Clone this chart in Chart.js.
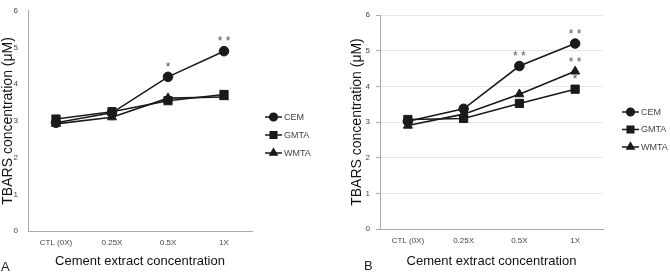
<!DOCTYPE html>
<html>
<head>
<meta charset="utf-8">
<script src="https://cdn.jsdelivr.net/npm/chart.js@4/dist/chart.umd.min.js"></script>
<style>
    body { margin: 0; background: #fff; width: 670px; height: 272px; overflow: hidden; position: relative; font-family: "Liberation Sans", Arial, sans-serif; }
    .panel { position: absolute; top: 0; width: 335px; height: 272px; }
    .tag { position: absolute; font-size: 13px; color: #222; }
</style>
</head>
<body>
<div class="panel" style="left:0"><canvas id="chartA"></canvas></div>
<div class="panel" style="left:335px"><canvas id="chartB"></canvas></div>
<div class="tag" style="left:1px; top:259px;">A</div>
<div class="tag" style="left:364px; top:258px;">B</div>
<script>
// Data
const categories = ["CTL (0X)", "0.25X", "0.5X", "1X"];
const seriesNames = ["CEM", "GMTA", "WMTA"];
const yTicks = [0, 1, 2, 3, 4, 5, 6];

const cemA = [2.95, 3.22, 4.2, 4.9];
const gmtaA = [3.05, 3.25, 3.55, 3.72];
const wmtaA = [2.92, 3.1, 3.62, 3.65];

const cemB = [3.02, 3.37, 4.57, 5.2];
const gmtaB = [3.07, 3.1, 3.52, 3.92];
const wmtaB = [2.9, 3.22, 3.78, 4.42];

// significance marks per point
const cemSigA = ["", "", "*", "**"];
const gmtaSigA = ["", "", "", ""];
const wmtaSigA = ["", "", "", ""];

const cemSigB = ["", "", "**", "**"];
const gmtaSigB = ["", "", "", "*"];
const wmtaSigB = ["", "", "", "**"];

const styles = [
    { pointStyle: 'circle', radius: 4.8 },
    { pointStyle: 'rect', radius: 5.8 },
    { pointStyle: 'triangle', radius: 5.2 }
];

const markPlugin = {
    id: 'marks',
    afterDatasetsDraw(chart, args, opts) {
        const ctx = chart.ctx;
        ctx.save();
        // asterisks above points
        ctx.fillStyle = '#555';
        ctx.font = '12px "Liberation Sans", Arial';
        ctx.textAlign = 'center';
        ctx.textBaseline = 'middle';
        opts.sig.forEach((arr, i) => {
            const meta = chart.getDatasetMeta(i);
            arr.forEach((s, j) => {
                if (!s) return;
                const p = meta.data[j];
                ctx.fillText(s.split('').join(' '), p.x, p.y - 9);
            });
        });
        // legend
        chart.data.datasets.forEach((ds, i) => {
            const y = opts.legendY + i * opts.legendGap;
            const x = opts.legendX;
            ctx.strokeStyle = '#1a1a1a';
            ctx.lineWidth = 1.5;
            ctx.beginPath();
            ctx.moveTo(x, y);
            ctx.lineTo(x + 17, y);
            ctx.stroke();
            ctx.fillStyle = '#1a1a1a';
            Chart.helpers.drawPoint(ctx, {
                pointStyle: styles[i].pointStyle,
                radius: styles[i].radius * 0.8,
                rotation: 0,
                borderWidth: 1
            }, x + 8.5, y);
            ctx.fillStyle = '#444';
            ctx.font = '9px "Liberation Sans", Arial';
            ctx.textAlign = 'left';
            ctx.fillText(ds.label, x + 19, y + 0.5);
        });
        ctx.restore();
    }
};

function makeChart(id, series, sig, layout) {
    const ctx = document.getElementById(id).getContext('2d');
    return new Chart(ctx, {
        type: 'line',
        data: {
            labels: categories,
            datasets: series.map((d, i) => ({
                label: seriesNames[i],
                data: d,
                borderColor: '#1a1a1a',
                backgroundColor: '#1a1a1a',
                borderWidth: 1.6,
                pointStyle: styles[i].pointStyle,
                pointRadius: styles[i].radius,
                pointBorderWidth: 1,
                tension: 0
            }))
        },
        options: {
            responsive: false,
            animation: false,
            layout: { padding: layout.padding },
            plugins: {
                legend: { display: false },
                tooltip: { enabled: false },
                marks: { sig: sig, legendX: layout.legendX, legendY: layout.legendY, legendGap: layout.legendGap }
            },
            scales: {
                x: {
                    offset: true,
                    grid: { display: false, drawTicks: false },
                    border: { color: '#aaa', width: 1 },
                    ticks: { color: '#444', font: { size: 8 }, padding: 7, maxRotation: 0 },
                    title: { display: true, text: 'Cement extract concentration', color: '#111', font: { size: 13 }, padding: { top: 2, bottom: 3 } },
                    afterFit: s => { s.height = layout.xHeight; }
                },
                y: {
                    min: 0, max: 6,
                    afterBuildTicks: s => { s.ticks = yTicks.map(v => ({ value: v })); },
                    grid: { display: layout.grid, drawOnChartArea: layout.grid, color: '#e8e8e8', tickLength: 4, tickColor: '#aaa' },
                    border: { color: '#aaa', width: 1 },
                    ticks: { color: '#444', font: { size: 8 }, padding: 6 },
                    title: { display: true, text: 'TBARS concentration (μM)', color: '#111', font: { size: 14 }, padding: { top: 0, bottom: 2 } },
                    afterFit: s => { s.width = layout.yWidth; }
                }
            }
        },
        plugins: [markPlugin]
    });
}

function init() {
    const a = document.getElementById('chartA');
    const b = document.getElementById('chartB');
    a.width = 335; a.height = 272;
    b.width = 335; b.height = 272;

    makeChart('chartA', [cemA, gmtaA, wmtaA], [cemSigA, gmtaSigA, wmtaSigA], {
        padding: { left: 0, right: 83, top: 5, bottom: 0 },
        yWidth: 28, xHeight: 41, grid: false,
        legendX: 265, legendY: 117, legendGap: 18
    });
    makeChart('chartB', [cemB, gmtaB, wmtaB], [cemSigB, gmtaSigB, wmtaSigB], {
        padding: { left: 14, right: 67, top: 15, bottom: 0 },
        yWidth: 31, xHeight: 43, grid: true,
        legendX: 287, legendY: 112, legendGap: 17.5
    });
}

init();
</script>
</body>
</html>
